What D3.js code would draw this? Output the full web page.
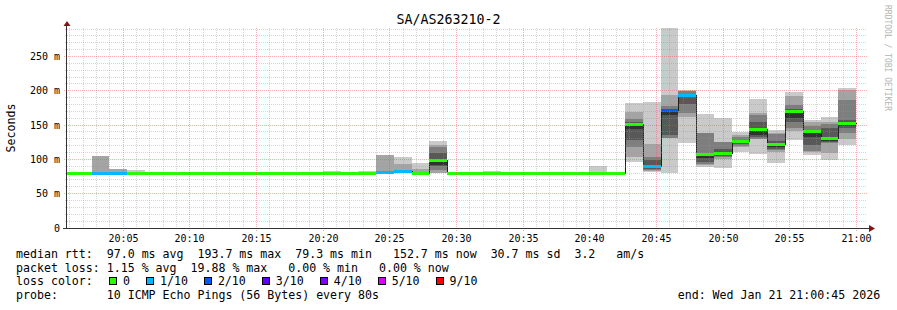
<!DOCTYPE html>
<html>
<head>
<meta charset="utf-8">
<script src="https://cdn.jsdelivr.net/npm/d3@7"></script>
<style>
  body { margin: 0; background: #fff; }
  svg { display: block; }
  text { font-family: "DejaVu Sans Mono", monospace; fill: #000; white-space: pre; }
</style>
</head>
<body>
<div id="chart"></div>
<script>
/* Data */
const title = "SA/AS263210-2";
const yLabel = "Seconds";
const watermark = "RRDTOOL / TOBI OETIKER";
const binStep = 80; // seconds per bin
const firstBin = "2026-01-21T19:59:58Z";
const viewStart = "2026-01-21T20:00:45Z";
const viewEnd = "2026-01-21T21:00:45Z";
const yMax = 291.5;
const yTicks = [0, 50, 100, 150, 200, 250];
const yTickLabels = ["0", "50 m", "100 m", "150 m", "200 m", "250 m"];

// median rtt (ms) per 80s bin
const medians = [
  79.4, 79.3, 79.9, 80.0, 79.4, 79.3, 79.4, 79.3, 79.3, 79.4,
  79.3, 79.3, 79.4, 79.3, 79.3, 79.5, 79.3, 79.4, 80.6, 82.8,
  79.3, 97.7, 79.3, 79.3, 79.4, 79.3, 79.3, 79.4, 79.3, 79.3,
  79.6, 79.3, 151.3, 89.8, 171.0, 193.7, 107.3, 109.2, 125.5, 143.7,
  121.9, 170.5, 140.7, 130.6, 152.7
];

// lost pings (of 10) per bin
const lossCounts = [
  0, 0, 1, 1, 0, 0, 0, 0, 0, 0,
  0, 0, 0, 0, 0, 0, 0, 0, 1, 1,
  0, 0, 0, 0, 0, 0, 0, 0, 0, 0,
  0, 0, 0, 1, 2, 1, 0, 0, 0, 0,
  0, 0, 0, 0, 0
];

// sorted ping times (ms) per bin, used for the smoke
const pings = [
  [78.9, 79.0, 79.1, 79.2, 79.3, 79.4, 79.5, 79.6, 79.7, 80.1],
  [78.9, 79.0, 79.1, 79.2, 79.3, 79.3, 79.4, 79.5, 79.7, 80.0],
  [79.5, 79.5, 79.7, 79.8, 79.9, 79.9, 80.1, 80.3, 105.4, 105.4],
  [79.6, 79.6, 79.8, 79.9, 80.0, 80.0, 80.2, 80.4, 86.4, 86.4],
  [79.0, 79.1, 79.2, 79.3, 79.4, 79.4, 79.5, 79.6, 79.8, 85.0],
  [78.9, 79.0, 79.1, 79.2, 79.3, 79.3, 79.4, 79.5, 79.7, 80.1],
  [78.9, 79.0, 79.1, 79.2, 79.3, 79.4, 79.5, 79.6, 79.8, 80.0],
  [78.9, 79.0, 79.1, 79.2, 79.3, 79.3, 79.4, 79.5, 79.7, 80.2],
  [78.9, 79.0, 79.1, 79.2, 79.2, 79.3, 79.4, 79.5, 79.6, 80.0],
  [78.9, 79.0, 79.1, 79.2, 79.3, 79.4, 79.5, 79.6, 79.8, 80.1],
  [78.9, 79.0, 79.1, 79.2, 79.3, 79.3, 79.4, 79.5, 79.7, 80.0],
  [78.9, 79.0, 79.1, 79.2, 79.3, 79.3, 79.4, 79.5, 79.6, 80.1],
  [78.9, 79.0, 79.1, 79.2, 79.3, 79.4, 79.5, 79.6, 79.7, 80.0],
  [78.9, 79.0, 79.1, 79.2, 79.3, 79.3, 79.4, 79.5, 79.7, 80.2],
  [78.9, 79.0, 79.1, 79.2, 79.3, 79.3, 79.4, 79.5, 79.6, 80.0],
  [79.0, 79.1, 79.2, 79.3, 79.4, 79.5, 79.6, 79.7, 79.9, 83.0],
  [78.9, 79.0, 79.1, 79.2, 79.3, 79.3, 79.4, 79.5, 79.7, 80.1],
  [79.0, 79.1, 79.2, 79.3, 79.3, 79.4, 79.5, 79.6, 79.9, 83.0],
  [80.0, 80.0, 80.2, 80.4, 80.5, 80.6, 80.8, 83.5, 107.0, 107.0],
  [80.0, 80.4, 81.0, 81.5, 82.0, 82.8, 83.3, 84.0, 93.7, 104.0],
  [79.0, 79.1, 79.2, 79.3, 79.3, 79.3, 79.5, 80.0, 86.0, 95.0],
  [79.5, 80.2, 85.0, 90.8, 92.3, 97.7, 109.3, 118.0, 121.4, 127.0],
  [78.9, 79.0, 79.1, 79.2, 79.3, 79.3, 79.4, 79.5, 79.7, 80.0],
  [78.9, 79.0, 79.1, 79.2, 79.3, 79.3, 79.4, 79.5, 79.6, 80.1],
  [79.0, 79.1, 79.2, 79.3, 79.3, 79.4, 79.5, 79.6, 79.9, 83.0],
  [78.9, 79.0, 79.1, 79.2, 79.3, 79.3, 79.4, 79.5, 79.7, 80.0],
  [78.9, 79.0, 79.1, 79.2, 79.3, 79.3, 79.4, 79.5, 79.6, 80.1],
  [78.9, 79.0, 79.1, 79.2, 79.3, 79.4, 79.5, 79.6, 79.7, 80.0],
  [78.9, 79.0, 79.1, 79.2, 79.3, 79.3, 79.4, 79.5, 79.7, 80.2],
  [78.9, 79.0, 79.1, 79.2, 79.3, 79.3, 79.4, 79.5, 79.6, 80.0],
  [79.1, 79.2, 79.3, 79.4, 79.5, 79.6, 79.7, 79.9, 80.3, 89.8],
  [78.9, 79.0, 79.1, 79.2, 79.3, 79.3, 79.4, 79.5, 79.7, 80.1],
  [96.6, 103.5, 118.5, 128.7, 144.3, 151.3, 155.0, 159.3, 169.5, 182.7],
  [81.6, 83.5, 85.0, 86.4, 88.5, 89.8, 99.6, 102.9, 122.9, 184.0],
  [80.6, 131.0, 131.2, 136.0, 164.1, 171.0, 173.5, 178.3, 193.3, 292.0],
  [124.3, 161.8, 168.0, 180.5, 191.0, 193.7, 196.0, 199.0, 200.0, 201.6],
  [89.4, 91.3, 93.7, 96.2, 102.5, 107.3, 108.0, 138.0, 138.2, 166.6],
  [86.9, 100.6, 104.0, 105.4, 108.0, 109.2, 115.6, 125.0, 125.4, 159.8],
  [110.8, 117.5, 120.0, 122.8, 124.0, 125.5, 128.5, 132.4, 135.3, 139.4],
  [108.3, 129.0, 129.7, 132.7, 136.0, 143.7, 155.0, 164.0, 167.8, 188.5],
  [94.2, 110.2, 113.4, 115.6, 117.8, 121.9, 127.3, 137.0, 138.2, 143.3],
  [128.7, 140.8, 146.2, 155.0, 160.8, 170.5, 173.5, 179.7, 192.9, 198.0],
  [105.7, 111.2, 112.7, 121.0, 133.1, 140.7, 142.6, 148.4, 155.0, 156.9],
  [99.1, 109.3, 123.3, 125.5, 127.3, 130.6, 145.8, 151.6, 155.0, 161.2],
  [121.4, 129.7, 138.5, 145.8, 149.1, 152.7, 157.9, 187.0, 200.6, 204.5]
];

// smoke shades, outer pair to inner pair
const smokeShades = ["#cacaca", "#a4a4a4", "#7e7e7e", "#585858", "#323232"];

// loss colour legend
const lossLabels = ["0", "1/10", "2/10", "3/10", "4/10", "5/10", "9/10"];
const lossLimits = [0, 1, 2, 3, 4, 5, 9];
const lossColors = ["#26ff00", "#00b8ff", "#0059ff", "#5e00ff", "#7e00ff", "#dd00ff", "#ff0000"];

const statRows = [
  "median rtt:  97.0 ms avg  193.7 ms max  79.3 ms min   152.7 ms now  30.7 ms sd  3.2   am/s",
  "packet loss: 1.15 % avg  19.88 % max   0.00 % min   0.00 % now"
];
const probeText = "10 ICMP Echo Pings (56 Bytes) every 80s";
const endText = "end: Wed Jan 21 21:00:45 2026";

/* Canvas */
const W = 897, H = 310;
const plot = { left: 66.5, right: 866.5, top: 28, bottom: 228 };

const svg = d3.select("#chart").append("svg")
    .attr("width", W)
    .attr("height", H);

svg.append("rect").attr("width", W).attr("height", H).attr("fill", "#fff");

const x = d3.scaleUtc()
    .domain([new Date(viewStart), new Date(viewEnd)])
    .range([plot.left, plot.right]);

const y = d3.scaleLinear()
    .domain([0, yMax])
    .range([plot.bottom, plot.top]);

const t0 = new Date(firstBin).getTime();
const bins = medians.map((m, i) => ({
    start: new Date(t0 + i * binStep * 1000),
    end: new Date(t0 + (i + 1) * binStep * 1000),
    median: m,
    loss: lossCounts[i],
    pings: pings[i]
}));

function lossColor(n) {
    let c = lossColors[0];
    lossLimits.forEach((lim, i) => { if (n >= lim) c = lossColors[i]; });
    return c;
}

svg.append("defs").append("clipPath").attr("id", "plotclip")
  .append("rect")
    .attr("x", plot.left + 0.5).attr("y", plot.top)
    .attr("width", plot.right - plot.left).attr("height", plot.bottom - plot.top);

const g = svg.append("g").attr("clip-path", "url(#plotclip)");

// Smoke
smokeShades.forEach((shade, i) => {
    g.append("g").selectAll("rect")
        .data(bins)
        .join("rect")
        .attr("shape-rendering", "crispEdges")
        .attr("x", d => x(d.start))
        .attr("width", d => x(d.end) - x(d.start))
        .attr("y", d => y(Math.min(d.pings[9 - i], yMax)))
        .attr("height", d => y(d.pings[i]) - y(Math.min(d.pings[9 - i], yMax)))
        .attr("fill", shade);
});

// Median line (step)
const medPts = [];
bins.forEach(d => { medPts.push([d.start, d.median]); medPts.push([d.end, d.median]); });
g.append("path")
    .datum(medPts)
    .attr("fill", "none")
    .attr("stroke", "#202020")
    .attr("stroke-width", 1)
    .attr("shape-rendering", "crispEdges")
    .attr("d", d3.line().x(d => Math.round(x(d[0])) + 0.5).y(d => Math.floor(y(d[1])) + 0.5));

// Loss coloured median band
g.append("g").selectAll("rect")
    .data(bins)
    .join("rect")
    .attr("shape-rendering", "crispEdges")
    .attr("x", d => x(d.start))
    .attr("width", d => x(d.end) - x(d.start))
    .attr("y", d => y(d.median) - 1.5)
    .attr("height", 3)
    .attr("fill", d => lossColor(d.loss));

// Grid
const grid = svg.append("g").attr("shape-rendering", "crispEdges");
const minorY = d3.range(10, yMax, 10).filter(v => v % 50 !== 0);
const majorY = yTicks.filter(v => v > 0);
const minorX = x.ticks(d3.utcMinute.every(1)).filter(t => t.getUTCMinutes() % 5 !== 0);
const majorX = x.ticks(d3.utcMinute.every(5));
const minorColor = "rgba(150,150,150,0.4)";
const majorColor = "rgba(235,80,80,0.45)";

grid.selectAll(".minory").data(minorY).join("line")
    .attr("x1", plot.left - 2).attr("x2", plot.right)
    .attr("y1", d => Math.floor(y(d)) + 0.5).attr("y2", d => Math.floor(y(d)) + 0.5)
    .attr("stroke", minorColor)
    .attr("stroke-dasharray", "1,1");

grid.selectAll(".minorx").data(minorX).join("line")
    .attr("x1", d => Math.floor(x(d)) + 0.5).attr("x2", d => Math.floor(x(d)) + 0.5)
    .attr("y1", plot.top).attr("y2", plot.bottom + 2)
    .attr("stroke", minorColor)
    .attr("stroke-dasharray", "1,1");

grid.selectAll(".majory").data(majorY).join("line")
    .attr("x1", plot.left - 3).attr("x2", plot.right)
    .attr("y1", d => Math.floor(y(d)) + 0.5).attr("y2", d => Math.floor(y(d)) + 0.5)
    .attr("stroke", majorColor)
    .attr("stroke-dasharray", "1,1");

grid.selectAll(".majorx").data(majorX).join("line")
    .attr("x1", d => Math.floor(x(d)) + 0.5).attr("x2", d => Math.floor(x(d)) + 0.5)
    .attr("y1", plot.top).attr("y2", plot.bottom + 3)
    .attr("stroke", majorColor)
    .attr("stroke-dasharray", "1,1");

// Axes
const axisColor = "#333";
svg.append("line")
    .attr("x1", 66.5).attr("x2", 66.5)
    .attr("y1", plot.bottom + 1).attr("y2", 25)
    .attr("stroke", axisColor).attr("shape-rendering", "crispEdges");
svg.append("line")
    .attr("x1", 63).attr("x2", 870)
    .attr("y1", plot.bottom + 0.5).attr("y2", plot.bottom + 0.5)
    .attr("stroke", axisColor).attr("shape-rendering", "crispEdges");
svg.append("path")
    .attr("d", "M63.5,26 L70.5,26 L67,21 Z")
    .attr("fill", "#8b1010");
svg.append("path")
    .attr("d", "M869,225 L869,232 L875,228.5 Z")
    .attr("fill", "#8b1010");

// Y tick labels
svg.append("g").selectAll("text")
    .data(yTicks)
    .join("text")
    .attr("x", 60)
    .attr("y", d => Math.floor(y(d)) + 0.5)
    .attr("dy", "0.35em")
    .attr("text-anchor", "end")
    .attr("font-size", "10px")
    .text((d, i) => yTickLabels[i]);

// X tick labels
svg.append("g").selectAll("text")
    .data(majorX)
    .join("text")
    .attr("x", d => Math.floor(x(d)) + 0.5)
    .attr("y", 242)
    .attr("text-anchor", "middle")
    .attr("font-size", "10px")
    .text(d => d3.utcFormat("%H:%M")(d));

// Title and labels
svg.append("text")
    .attr("x", W / 2).attr("y", 24)
    .attr("text-anchor", "middle")
    .attr("font-size", "13.3px")
    .text(title);

svg.append("text")
    .attr("transform", `translate(15,128) rotate(-90)`)
    .attr("text-anchor", "middle")
    .attr("font-size", "11.6px")
    .text(yLabel);

svg.append("text")
    .attr("transform", `translate(885,5) rotate(90)`)
    .attr("font-size", "8px")
    .style("fill", "#b4b4b4")
    .text(watermark);

// Legend
const legFont = "11.6px";
const cw = 6.98;
const rowY = [258, 271.7, 285.4, 299];
statRows.forEach((r, i) => {
    svg.append("text").attr("x", 16).attr("y", rowY[i]).attr("font-size", legFont).text(r);
});

svg.append("text").attr("x", 16).attr("y", rowY[2]).attr("font-size", legFont).text("loss color:");
let lx = 109.5;
lossLabels.forEach((lab, i) => {
    svg.append("rect")
        .attr("x", lx).attr("y", rowY[2] - 7.5)
        .attr("width", 7).attr("height", 7)
        .attr("fill", lossColors[i])
        .attr("stroke", "#000").attr("stroke-width", 1)
        .attr("shape-rendering", "crispEdges");
    svg.append("text").attr("x", lx + 13.5).attr("y", rowY[2]).attr("font-size", legFont).text(lab);
    lx += 14 + lab.length * cw + 16;
});

svg.append("text").attr("x", 16).attr("y", rowY[3]).attr("font-size", legFont).text("probe:");
svg.append("text").attr("x", 16 + 13 * cw).attr("y", rowY[3]).attr("font-size", legFont).text(probeText);
svg.append("text").attr("x", 677.7).attr("y", rowY[3]).attr("font-size", legFont).text(endText);
</script>
</body>
</html>
